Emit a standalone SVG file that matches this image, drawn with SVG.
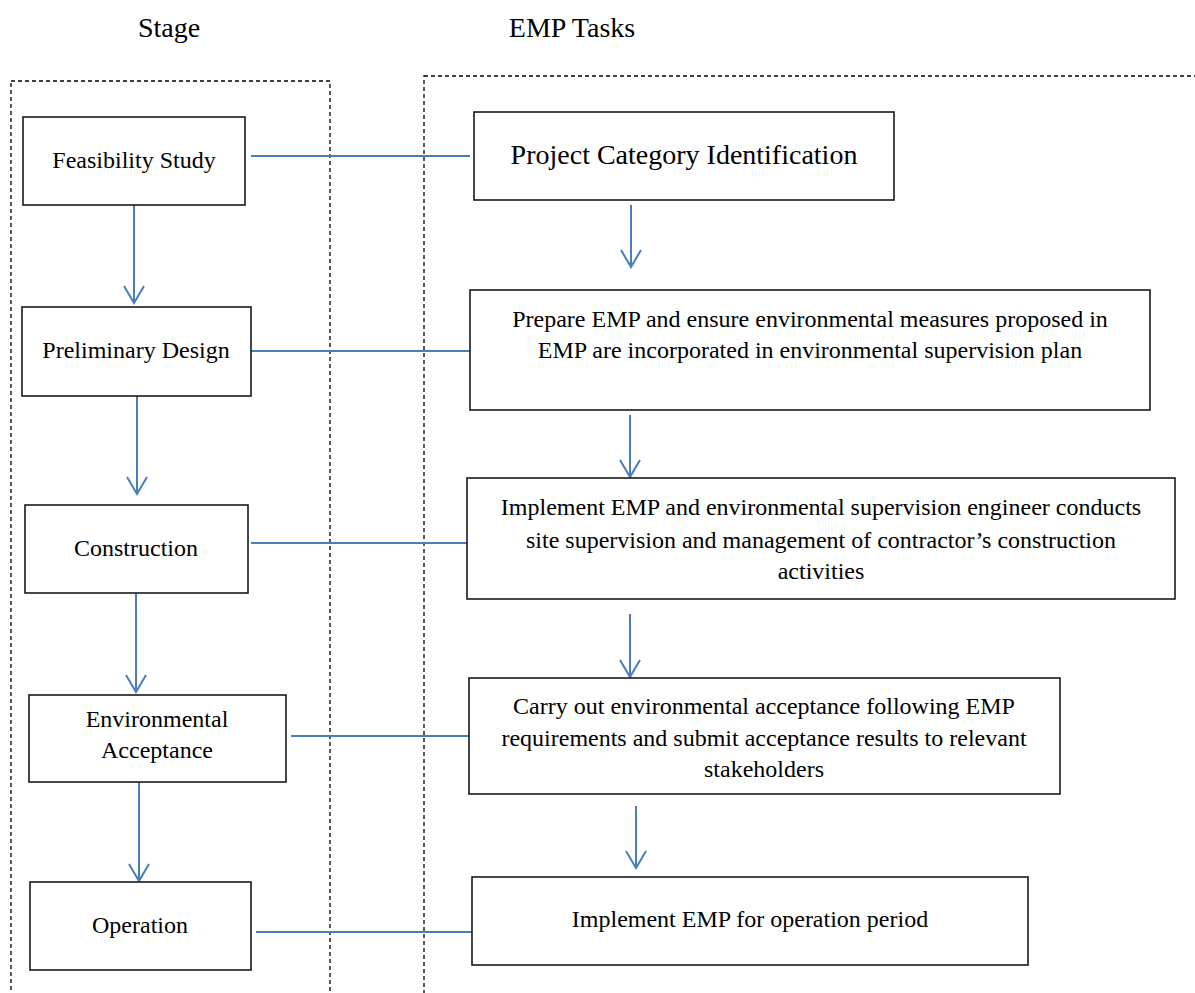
<svg xmlns="http://www.w3.org/2000/svg" width="1195" height="993" viewBox="0 0 1195 993">
<style>
.node{fill:#fff;stroke:#1a1a1a;stroke-width:1.6}
.lane{fill:none;stroke:#000;stroke-width:1.3;stroke-dasharray:4 3}
.t{font-family:"Liberation Serif","Times New Roman",serif;font-size:24px;fill:#000;text-anchor:middle}
.h{font-family:"Liberation Serif","Times New Roman",serif;font-size:28px;fill:#000;text-anchor:middle}
.c{fill:none;stroke:#4a7ebb;stroke-width:2}
</style>
<defs>
<marker id="arr" viewBox="0 0 20 22" refX="18" refY="11" markerWidth="20" markerHeight="22" markerUnits="userSpaceOnUse" orient="auto">
<path d="M1 1 L18 11 L1 21" fill="none" stroke="#4a7ebb" stroke-width="2"/>
</marker>
</defs>
<rect width="1195" height="993" fill="#fff"/>
<text class="h" x="169" y="37">Stage</text>
<text class="h" x="572" y="37">EMP Tasks</text>
<rect class="lane" x="11" y="81" width="319" height="930"/>
<rect class="lane" x="424" y="76" width="800" height="940"/>
<g id="connectors">
<line class="c" x1="251" y1="156" x2="470" y2="156"/>
<line class="c" x1="251" y1="351" x2="470" y2="351"/>
<line class="c" x1="251" y1="543" x2="467" y2="543"/>
<line class="c" x1="291" y1="736" x2="469" y2="736"/>
<line class="c" x1="256" y1="932" x2="472" y2="932"/>
<path class="c" d="M134 205 V303" marker-end="url(#arr)"/>
<path class="c" d="M137 396 V494" marker-end="url(#arr)"/>
<path class="c" d="M136 593 V692" marker-end="url(#arr)"/>
<path class="c" d="M139 782 V881" marker-end="url(#arr)"/>
<path class="c" d="M631 205 V267" marker-end="url(#arr)"/>
<path class="c" d="M630 415 V477" marker-end="url(#arr)"/>
<path class="c" d="M630 614 V677" marker-end="url(#arr)"/>
<path class="c" d="M636 806 V868" marker-end="url(#arr)"/>
</g>
<g id="feasibility">
<rect class="node" x="23" y="117" width="222" height="88"/>
<text class="t" x="134" y="168">Feasibility Study</text>
</g>
<g id="preliminary">
<rect class="node" x="22" y="307" width="229" height="89"/>
<text class="t" x="136" y="358">Preliminary Design</text>
</g>
<g id="construction">
<rect class="node" x="25" y="505" width="223" height="88"/>
<text class="t" x="136" y="556">Construction</text>
</g>
<g id="acceptance">
<rect class="node" x="29" y="695" width="257" height="87"/>
<text class="t" x="157" y="727">Environmental</text>
<text class="t" x="157" y="758">Acceptance</text>
</g>
<g id="operation">
<rect class="node" x="30" y="882" width="221" height="88"/>
<text class="t" x="140" y="933">Operation</text>
</g>
<g id="category">
<rect class="node" x="474" y="112" width="420" height="88"/>
<text class="t" x="684" y="164" style="font-size:28px">Project Category Identification</text>
</g>
<g id="prepare">
<rect class="node" x="470" y="290" width="680" height="120"/>
<text class="t" x="810" y="327">Prepare EMP and ensure environmental measures proposed in</text>
<text class="t" x="810" y="358">EMP are incorporated in environmental supervision plan</text>
</g>
<g id="implement">
<rect class="node" x="467" y="478" width="708" height="121"/>
<text class="t" x="821" y="515">Implement EMP and environmental supervision engineer conducts</text>
<text class="t" x="821" y="548">site supervision and management of contractor’s construction</text>
<text class="t" x="821" y="579">activities</text>
</g>
<g id="carryout">
<rect class="node" x="469" y="678" width="591" height="116"/>
<text class="t" x="764" y="714">Carry out environmental acceptance following EMP</text>
<text class="t" x="764" y="746">requirements and submit acceptance results to relevant</text>
<text class="t" x="764" y="777">stakeholders</text>
</g>
<g id="operationtask">
<rect class="node" x="472" y="877" width="556" height="88"/>
<text class="t" x="750" y="927">Implement EMP for operation period</text>
</g>
</svg>
